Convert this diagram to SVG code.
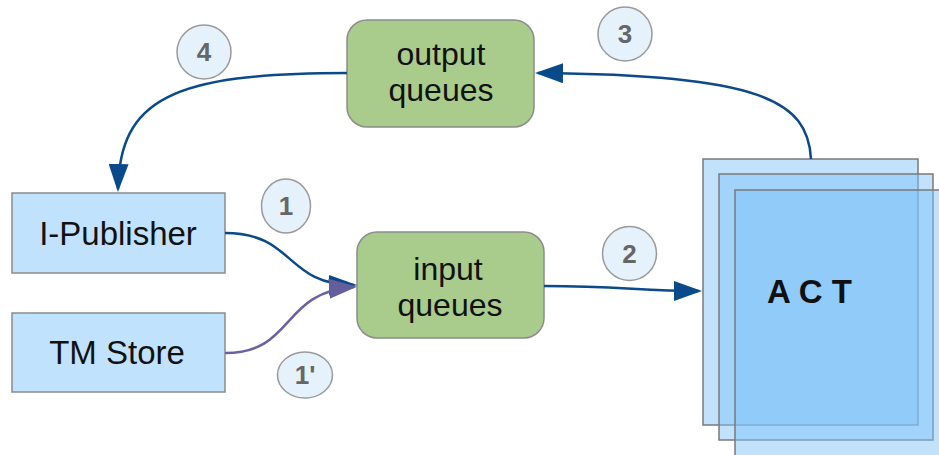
<svg xmlns="http://www.w3.org/2000/svg" width="939" height="455" viewBox="0 0 939 455">
<style>
.box{fill:#c1e2fd;stroke:#8c8c8c;stroke-width:1.5}
.q{fill:#a9cc8d;stroke:#8c8c8c;stroke-width:1.5}
.act{fill:#80c2f8;fill-opacity:0.48;stroke:#7a7a7a;stroke-width:1.5}
.t{font-family:"Liberation Sans",Arial,sans-serif;font-size:32px;fill:#111;text-anchor:middle}
.tl{font-size:33px}
.num{fill:#e6f2fb;stroke:#9a9a9a;stroke-width:1.5}
.nt{font-family:"Liberation Sans",Arial,sans-serif;font-size:26px;font-weight:bold;fill:#666;text-anchor:middle}
.blue{fill:none;stroke:#0b4a8a;stroke-width:2.5}
.purple{fill:none;stroke:#6a62a0;stroke-width:2.5}
</style>
<defs>
<marker id="ab" viewBox="0 0 28 20" markerWidth="28" markerHeight="20" refX="25" refY="10" orient="auto" markerUnits="userSpaceOnUse">
<path d="M0,0 L28,10 L0,20 z" fill="#0b4a8a"/>
</marker>
<marker id="ap" viewBox="0 0 28 20" markerWidth="28" markerHeight="20" refX="25" refY="10" orient="auto" markerUnits="userSpaceOnUse">
<path d="M0,0 L28,10 L0,20 z" fill="#645e9c"/>
</marker>
</defs>
<rect width="939" height="455" fill="#ffffff"/>

<g id="act">
<rect class="act" x="703" y="159" width="215" height="266"/>
<rect class="act" x="719" y="174" width="214" height="266"/>
<rect class="act" x="735" y="190" width="220" height="280"/>
<text x="767" y="303" font-family="Liberation Sans,Arial,sans-serif" font-size="33" font-weight="bold" fill="#111">A C T</text>
</g>

<g id="ipublisher">
<rect class="box" x="12" y="193" width="213" height="80"/>
<text class="t tl" x="118" y="245">I-Publisher</text>
</g>
<g id="tmstore">
<rect class="box" x="12" y="313" width="213" height="79"/>
<text class="t tl" x="117" y="364">TM Store</text>
</g>
<g id="inputqueues">
<rect class="q" x="357" y="232" width="187" height="106" rx="20"/>
<text class="t" x="448" y="280">input</text>
<text class="t" x="450" y="316">queues</text>
</g>
<g id="outputqueues">
<rect class="q" x="347" y="20" width="187" height="107" rx="20"/>
<text class="t" x="441" y="65">output</text>
<text class="t" x="441" y="101">queues</text>
</g>

<g id="connectors">
<path class="blue" d="M347,73 C170,73 120,100 118,189" marker-end="url(#ab)"/>
<path class="blue" d="M811,159 C808,100 760,75 538,73" marker-end="url(#ab)"/>
<path class="blue" d="M544,286 C620,286 640,291 699,291" marker-end="url(#ab)"/>
<path class="blue" d="M225,233 C295,233 285,285 354,285" marker-end="url(#ab)"/>
<path class="purple" d="M225,353 C295,353 280,292 354,287" marker-end="url(#ap)"/>
</g>

<g id="label1">
<ellipse class="num" cx="286" cy="206" rx="24.5" ry="27"/>
<text class="nt" x="286" y="215">1</text>
</g>
<g id="label1p">
<ellipse class="num" cx="305" cy="375" rx="27.5" ry="23"/>
<text class="nt" x="305" y="384">1'</text>
</g>
<g id="label2">
<circle class="num" cx="629.5" cy="253.5" r="27"/>
<text class="nt" x="629.5" y="262.5">2</text>
</g>
<g id="label3">
<circle class="num" cx="625" cy="34" r="27"/>
<text class="nt" x="625" y="43">3</text>
</g>
<g id="label4">
<circle class="num" cx="204" cy="52" r="27"/>
<text class="nt" x="204" y="61">4</text>
</g>
</svg>
